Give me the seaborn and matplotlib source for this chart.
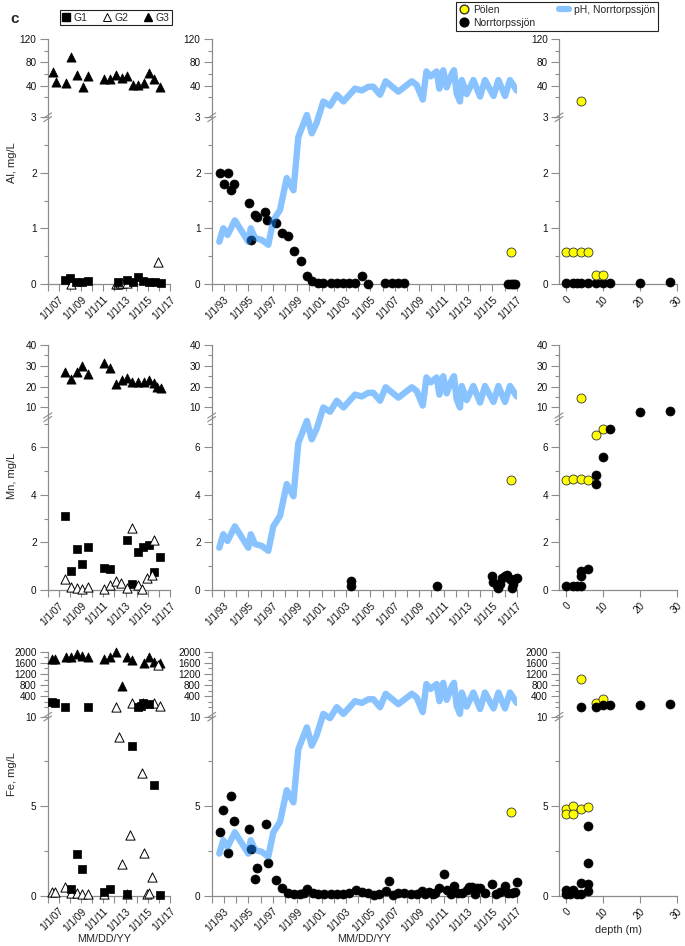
import matplotlib
matplotlib.use('Agg')
import matplotlib.pyplot as plt
import seaborn as sns
import pandas as pd
from matplotlib.lines import Line2D

# ------------------------------------------------------------------ data
# tick labels
g_major = [2007, 2009, 2011, 2013, 2015, 2017]
g_labels = ['1/1/07', '1/1/09', '1/1/11', '1/1/13', '1/1/15', '1/1/17']
lake_major = [1993, 1995, 1997, 1999, 2001, 2003, 2005, 2007, 2009, 2011, 2013, 2015, 2017]
lake_labels = ['1/1/93', '1/1/95', '1/1/97', '1/1/99', '1/1/01', '1/1/03', '1/1/05',
               '1/1/07', '1/1/09', '1/1/11', '1/1/13', '1/1/15', '1/1/17']
depth_major = [0, 10, 20, 30]
depth_labels = ['0', '10', '20', '30']

# pH, Norrtorpssjön
ph_t = [1992.62, 1992.95, 1993.3, 1993.9, 1995.0, 1995.2, 1995.55, 1996.1, 1996.64, 1997.05,
        1997.6, 1998.15, 1998.7, 1999.1, 1999.8, 2000.2, 2000.6, 2001.15, 2001.7, 2002.25,
        2002.8, 2003.75, 2004.3, 2004.84, 2005.25, 2005.8, 2006.26, 2007.3, 2008.4, 2008.8,
        2009.3, 2009.6, 2009.95, 2010.44, 2010.66, 2010.98, 2011.26, 2011.7, 2011.86, 2012.08,
        2012.35, 2012.5, 2012.9, 2013.45, 2014.0, 2014.4, 2015.1, 2015.5, 2016.04, 2016.45, 2017.0]
ph = [4.69, 4.91, 4.80, 5.04, 4.69, 4.91, 4.75, 4.72, 4.64, 5.04,
      5.21, 5.73, 5.53, 6.40, 6.76, 6.46, 6.63, 6.98, 6.91, 7.09,
      6.98, 7.19, 7.16, 7.22, 7.22, 7.09, 7.31, 7.14, 7.31, 7.25,
      7.01, 7.47, 7.39, 7.47, 7.19, 7.49, 7.21, 7.44, 7.49, 7.11,
      6.98, 7.33, 7.10, 7.33, 7.06, 7.33, 7.07, 7.33, 7.07, 7.33, 7.16]

# ---- Al
al_g3_t = [2006.45, 2006.75, 2007.64, 2008.06, 2008.6, 2009.14, 2009.6, 2011.06, 2011.6, 2012.14,
           2012.65, 2013.1, 2013.64, 2014.09, 2014.65, 2015.13, 2015.55, 2016.12]
al_g3 = [63, 47, 44, 90, 58, 38, 57, 51, 51, 58, 54, 57, 42, 41, 44, 61, 51, 37]
al_g1_t = [2007.55, 2008.0, 2008.54, 2009.1, 2009.6, 2012.35, 2013.1, 2013.64, 2014.09, 2014.6,
           2015.13, 2015.64, 2016.15]
al_g1 = [0.07, 0.10, 0.04, 0.03, 0.05, 0.03, 0.07, 0.03, 0.12, 0.05, 0.03, 0.03, 0.02]
al_g2_t = [2008.06, 2012.1, 2012.3, 2012.5, 2012.65, 2013.1, 2015.94]
al_g2 = [0.0, 0.0, 0.0, 0.01, 0.01, 0.02, 0.39]
al_lake_t = [1992.68, 1993.04, 1993.37, 1993.56, 1993.86, 1995.06, 1995.22, 1995.55, 1995.74, 1996.4,
             1996.56, 1997.24, 1997.74, 1998.28, 1998.77, 1999.3, 1999.78, 2000.25, 2000.7, 2001.15,
             2001.75, 2002.25, 2002.8, 2003.28, 2003.75, 2004.3, 2004.8, 2006.2, 2006.75, 2007.3,
             2007.8, 2016.3, 2016.5, 2016.7, 2016.9]
al_lake = [2.0, 1.8, 2.0, 1.69, 1.8, 1.46, 0.8, 1.25, 1.21, 1.29,
           1.15, 1.1, 0.91, 0.86, 0.59, 0.41, 0.14, 0.05, 0.01, 0.01,
           0.01, 0.02, 0.01, 0.02, 0.01, 0.14, 0.0, 0.01, 0.01, 0.02,
           0.01, 0.0, 0.0, 0.0, 0.0]
al_polen_t = [2016.5]
al_polen = [0.58]
al_pol_hi_d = [4]
al_pol_hi = [13.7]
al_pol_lo_d = [0, 2, 4, 6, 8, 10]
al_pol_lo = [0.58, 0.57, 0.57, 0.57, 0.16, 0.16]
al_nt_lo_d = [0, 2, 3, 4, 6, 8, 10, 12, 20, 28]
al_nt_lo = [0.02, 0.02, 0.02, 0.02, 0.02, 0.02, 0.02, 0.02, 0.02, 0.03]

# ---- Mn
mn_g3_t = [2007.6, 2008.1, 2008.6, 2009.1, 2009.6, 2011.1, 2011.6, 2012.14, 2012.65, 2013.1,
           2013.6, 2014.1, 2014.65, 2015.13, 2015.55, 2015.8, 2016.15]
mn_g3 = [27.2, 23.7, 27.2, 30.0, 26.0, 31.2, 28.8, 21.0, 23.2, 24.0, 22.4, 22.4, 22.4, 23.2, 21.7, 19.7, 19.2]
mn_g1_t = [2007.6, 2008.06, 2008.6, 2009.1, 2009.6, 2011.1, 2011.6, 2013.1, 2013.6, 2014.1,
           2014.6, 2015.13, 2015.55, 2016.1]
mn_g1 = [3.10, 0.81, 1.71, 1.09, 1.79, 0.94, 0.87, 2.10, 0.25, 1.61, 1.79, 1.89, 0.77, 1.40]
mn_g2_t = [2007.6, 2008.06, 2008.6, 2009.1, 2009.6, 2011.1, 2011.6, 2012.14, 2012.6, 2013.1,
           2013.6, 2014.1, 2014.5, 2014.95, 2015.4, 2015.55]
mn_g2 = [0.45, 0.14, 0.10, 0.05, 0.14, 0.06, 0.21, 0.38, 0.28, 0.08, 2.59, 0.20, 0.05, 0.49, 0.63, 2.10]
mn_lake_t = [2003.4, 2003.4, 2010.44, 2014.95, 2015.08, 2015.36, 2015.5, 2015.63, 2015.77, 2016.04,
             2016.18, 2016.45, 2016.59, 2016.72, 2016.86, 2017.0]
mn_lake = [0.38, 0.18, 0.18, 0.6, 0.34, 0.2, 0.1, 0.24, 0.52, 0.6, 0.65, 0.48, 0.1, 0.27, 0.45, 0.5]
mn_polen_t = [2016.5]
mn_polen = [4.65]
mn_pol_hi_d = [4]
mn_pol_hi = [14.3]
mn_pol_lo_d = [0, 2, 4, 6, 8, 10]
mn_pol_lo = [4.65, 4.66, 4.68, 4.64, 6.53, 6.78]
mn_nt_hi_d = [20, 28]
mn_nt_hi = [7.9, 8.2]
mn_nt_lo_d = [12, 10, 8, 8, 6, 4, 4, 0, 2, 3, 4]
mn_nt_lo = [6.78, 5.59, 4.86, 4.47, 0.87, 0.78, 0.6, 0.18, 0.18, 0.18, 0.18]

# ---- Fe
fe_g3_t = [2006.4, 2006.7, 2007.65, 2008.1, 2008.6, 2009.1, 2009.6, 2011.1, 2011.6, 2012.14,
           2012.65, 2013.1, 2013.6, 2014.65, 2015.13, 2015.55, 2016.1]
fe_g3 = [1727, 1727, 1821, 1821, 1907, 1840, 1821, 1727, 1821, 2000, 770, 1821, 1702, 1605, 1821, 1640, 1605]
fe_g1_hi_t = [2006.35, 2006.7, 2007.6, 2009.6, 2014.1, 2014.35, 2014.6, 2015.13]
fe_g1_hi = [206, 170, 27, 27, 27, 60, 170, 113]
fe_g1_lo_t = [2008.06, 2008.6, 2009.1, 2011.1, 2011.6, 2013.1, 2013.6, 2015.55, 2016.1]
fe_g1_lo = [0.37, 2.31, 1.49, 0.19, 0.37, 0.10, 8.38, 6.18, 0.05]
fe_g2_hi_t = [2012.14, 2013.6, 2014.6, 2015.55, 2015.94, 2016.1]
fe_g2_hi = [27, 149, 149, 149, 1540, 52]
fe_g2_lo_t = [2006.35, 2006.7, 2007.6, 2008.06, 2008.6, 2009.1, 2009.6, 2011.1, 2012.4, 2012.65,
              2013.1, 2013.4, 2014.5, 2014.65, 2014.95, 2015.13, 2015.4]
fe_g2_lo = [0.2, 0.2, 0.47, 0.13, 0.13, 0.1, 0.1, 0.1, 8.85, 1.77, 0.1, 3.39, 6.84, 2.37, 0.1, 0.13, 1.06]
fe_lake_t = [1992.68, 1992.95, 1993.37, 1993.56, 1993.86, 1995.06, 1995.22, 1995.55, 1995.74, 1996.43,
             1996.59, 1997.24, 1997.74, 1998.23, 1998.77, 1999.26, 1999.6, 1999.85, 2000.3, 2000.75,
             2001.2, 2001.75, 2002.3, 2002.8, 2003.25, 2003.8, 2004.3, 2004.8, 2005.3, 2005.75,
             2006.25, 2006.5, 2006.9, 2007.3, 2007.8, 2008.3, 2008.8, 2009.25, 2009.5, 2009.8,
             2010.1, 2010.3, 2010.6, 2011.0, 2011.25, 2011.6, 2011.9, 2012.2, 2012.5, 2012.9,
             2013.1, 2013.3, 2013.6, 2013.75, 2014.0, 2014.4, 2014.95, 2015.3, 2015.6, 2016.0,
             2016.3, 2016.6, 2016.9, 2017.0]
fe_lake = [3.58, 4.79, 2.37, 5.59, 4.17, 3.73, 2.59, 0.92, 1.56, 3.99,
           1.81, 0.88, 0.41, 0.17, 0.08, 0.10, 0.13, 0.35, 0.17, 0.10,
           0.08, 0.10, 0.08, 0.08, 0.17, 0.30, 0.22, 0.13, 0.02, 0.10,
           0.26, 0.84, 0.06, 0.13, 0.17, 0.10, 0.08, 0.26, 0.10, 0.22,
           0.08, 0.17, 0.41, 1.20, 0.30, 0.10, 0.56, 0.17, 0.13, 0.32,
           0.50, 0.50, 0.10, 0.41, 0.41, 0.13, 0.65, 0.10, 0.22, 0.54,
           0.13, 0.13, 0.22, 0.78]
fe_polen_t = [2016.5]
fe_polen = [4.7]
fe_pol_hi_d = [4, 8, 10]
fe_pol_hi = [1021, 170, 292]
fe_pol_lo_d = [0, 2, 4, 6, 0, 2]
fe_pol_lo = [4.84, 5.03, 4.84, 4.94, 4.55, 4.56]
fe_nt_hi_d = [4, 8, 10, 12, 20, 28]
fe_nt_hi = [5, 27, 70, 100, 100, 135]
fe_nt_lo_d = [6, 6, 4, 6, 0, 2, 0, 1, 3, 4, 6]
fe_nt_lo = [3.89, 1.81, 0.73, 0.67, 0.3, 0.3, 0.1, 0.1, 0.1, 0.1, 0.25]

# ------------------------------------------------------------------ style
sns.set_theme(style='ticks')
plt.rcParams['font.family'] = ['Liberation Sans', 'DejaVu Sans']

W, H = 685, 946
fig = plt.figure(figsize=(W / 100, H / 100), dpi=100)
GRAY = '#8c8c8c'
PH_COLOR = '#1489ff'
PH_ALPHA = 0.5
TICK_FS = 7.2

MK = {
    'G1': dict(marker='s', color='black', edgecolor='black', linewidth=0.5, s=40),
    'G2': dict(marker='^', color='white', edgecolor='black', linewidth=0.7, s=44),
    'G3': dict(marker='^', color='black', edgecolor='black', linewidth=0.5, s=44),
    'pol': dict(marker='o', color='#ffff00', edgecolor='#333333', linewidth=0.6, s=42),
    'nt': dict(marker='o', color='black', edgecolor='black', linewidth=0.5, s=42),
}

COLS = [
    dict(x=(47.7, 170.0), lim=(2006, 2017), major=g_major, labels=g_labels,
         minor=list(range(2006, 2017, 2))),
    dict(x=(211.7, 516.7), lim=(1992, 2017), major=lake_major, labels=lake_labels,
         minor=list(range(1992, 2017, 2))),
    dict(x=(559.0, 677.0), lim=(-1.9, 30), major=depth_major, labels=depth_labels, minor=[]),
]
ROWS = [
    dict(y=(39.0, 117.3, 284.0), tlim=(-14.1, 120), tmaj=[40, 80, 120], tmin=[20, 60, 100],
         llim=(0, 3), lmaj=[0, 1, 2, 3], lmin=[0.5, 1.5, 2.5], label='Al, mg/L', ly=163),
    dict(y=(345.0, 417.3, 590.0), tlim=(5.19, 40), tmaj=[10, 20, 30, 40], tmin=[15, 25, 35],
         llim=(0, 7.27), lmaj=[0, 2, 4, 6], lmin=[1, 3, 5, 7], label='Mn, mg/L', ly=476),
    dict(y=(651.7, 716.7, 895.7), tlim=(-332, 2000), tmaj=[400, 800, 1200, 1600, 2000],
         tmin=[0, 200, 600, 1000, 1400, 1800], llim=(0, 10), lmaj=[0, 5, 10], lmin=[2.5, 7.5],
         label='Fe, mg/L', ly=774),
]

# (row, col, segment, kind, x, y)
SERIES = [
    (0, 0, 'hi', 'G3', al_g3_t, al_g3), (0, 0, 'lo', 'G2', al_g2_t, al_g2),
    (0, 0, 'lo', 'G1', al_g1_t, al_g1),
    (0, 1, 'lo', 'nt', al_lake_t, al_lake), (0, 1, 'lo', 'pol', al_polen_t, al_polen),
    (0, 2, 'hi', 'pol', al_pol_hi_d, al_pol_hi), (0, 2, 'lo', 'nt', al_nt_lo_d, al_nt_lo),
    (0, 2, 'lo', 'pol', al_pol_lo_d, al_pol_lo),
    (1, 0, 'hi', 'G3', mn_g3_t, mn_g3), (1, 0, 'lo', 'G1', mn_g1_t, mn_g1),
    (1, 0, 'lo', 'G2', mn_g2_t, mn_g2),
    (1, 1, 'lo', 'nt', mn_lake_t, mn_lake), (1, 1, 'lo', 'pol', mn_polen_t, mn_polen),
    (1, 2, 'hi', 'pol', mn_pol_hi_d, mn_pol_hi), (1, 2, 'hi', 'nt', mn_nt_hi_d, mn_nt_hi),
    (1, 2, 'lo', 'pol', mn_pol_lo_d, mn_pol_lo), (1, 2, 'lo', 'nt', mn_nt_lo_d, mn_nt_lo),
    (2, 0, 'hi', 'G3', fe_g3_t, fe_g3), (2, 0, 'hi', 'G2', fe_g2_hi_t, fe_g2_hi),
    (2, 0, 'hi', 'G1', fe_g1_hi_t, fe_g1_hi),
    (2, 0, 'lo', 'G2', fe_g2_lo_t, fe_g2_lo), (2, 0, 'lo', 'G1', fe_g1_lo_t, fe_g1_lo),
    (2, 1, 'lo', 'nt', fe_lake_t, fe_lake), (2, 1, 'lo', 'pol', fe_polen_t, fe_polen),
    (2, 2, 'hi', 'pol', fe_pol_hi_d, fe_pol_hi), (2, 2, 'hi', 'nt', fe_nt_hi_d, fe_nt_hi),
    (2, 2, 'lo', 'pol', fe_pol_lo_d, fe_pol_lo), (2, 2, 'lo', 'nt', fe_nt_lo_d, fe_nt_lo),
]


def add_ax(x0, x1, y0, y1):
    return fig.add_axes([x0 / W, 1 - y1 / H, (x1 - x0) / W, (y1 - y0) / H])


def style(ax, bottom):
    for s in ['top', 'right']:
        ax.spines[s].set_visible(False)
    ax.spines['bottom'].set_visible(bottom)
    for s in ['left', 'bottom']:
        ax.spines[s].set_color(GRAY)
        ax.spines[s].set_linewidth(0.9)
    ax.patch.set_alpha(0)
    ax.tick_params(which='both', direction='out', color=GRAY, width=0.8,
                   labelsize=TICK_FS, labelcolor='#111111', pad=2.5, left=True, bottom=bottom)
    ax.tick_params(axis='y', which='major', length=5.5)
    ax.tick_params(axis='y', which='minor', length=3.2)
    ax.tick_params(axis='x', which='both', length=5.0)
    ax.grid(False)


axes = {}
for r, R in enumerate(ROWS):
    ytop, ybrk, ybot = R['y']
    for c, C in enumerate(COLS):
        x0, x1 = C['x']
        at = add_ax(x0, x1, ytop, ybrk)
        ab = add_ax(x0, x1, ybrk, ybot)
        for a in (at, ab):
            a.set_xlim(*C['lim'])
        at.set_ylim(*R['tlim'])
        ab.set_ylim(*R['llim'])
        style(at, False)
        style(ab, True)
        at.xaxis.set_visible(False)
        at.set_yticks(R['tmaj'])
        at.set_yticks(R['tmin'], minor=True)
        ab.set_yticks(R['lmaj'])
        ab.set_yticks(R['lmin'], minor=True)
        ab.set_yticklabels([('%g' % v) for v in R['lmaj']])
        at.set_yticklabels([('%g' % v) for v in R['tmaj']])
        ab.set_xticks(C['major'])
        ab.set_xticklabels(C['labels'], rotation=45, ha='right', rotation_mode='anchor',
                           fontsize=TICK_FS)
        if C['minor']:
            ab.set_xticks(C['minor'], minor=True)
        ab.set_xlabel('')
        at.set_xlabel('')
        axes[(r, c)] = (at, ab)
        # break marks
        for dy in (-1.8, 1.8):
            fig.add_artist(Line2D([(x0 - 4.0) / W, (x0 + 4.0) / W],
                                  [1 - (ybrk + dy + 2.6) / H, 1 - (ybrk + dy - 2.6) / H],
                                  color=GRAY, lw=0.8))

for (r, c, seg, kind, xs, ys) in SERIES:
    at, ab = axes[(r, c)]
    ax = at if seg == 'hi' else ab
    df = pd.DataFrame({'x': xs, 'y': ys})
    sns.scatterplot(data=df, x='x', y='y', ax=ax, legend=False, clip_on=False, zorder=3, **MK[kind])
    ax.set_xlabel('')
    ax.set_ylabel('')

# pH overlay in middle column, same shape in each row
ph_df = pd.DataFrame({'t': ph_t, 'pH': ph})
for r, R in enumerate(ROWS):
    ytop, ybrk, ybot = R['y']
    x0, x1 = COLS[1]['x']
    axp = add_ax(x0, x1, ytop, ybot)
    axp.set_xlim(*COLS[1]['lim'])
    axp.set_ylim(4, 8)
    sns.lineplot(data=ph_df, x='t', y='pH', ax=axp, sort=False, estimator=None,
                 color=PH_COLOR, alpha=PH_ALPHA, lw=4.6, zorder=5)
    for ln in axp.get_lines():
        ln.set_solid_capstyle('round')
        ln.set_solid_joinstyle('round')
    axp.axis('off')

# labels
fig.text(15 / W, 1 - 19 / H, 'c', fontsize=11, fontweight='bold', ha='center', va='center')
for R in ROWS:
    fig.text(12 / W, 1 - R['ly'] / H, R['label'], rotation=90, fontsize=8,
             ha='center', va='center')
fig.text(104 / W, 1 - 939 / H, 'MM/DD/YY', fontsize=7.8, ha='center', va='center')
fig.text(364 / W, 1 - 939 / H, 'MM/DD/YY', fontsize=7.8, ha='center', va='center')
fig.text(618 / W, 1 - 930 / H, 'depth (m)', fontsize=7.8, ha='center', va='center')

# legends
h1 = [Line2D([], [], ls='', marker='s', mfc='black', mec='black', ms=6, label='G1'),
      Line2D([], [], ls='', marker='^', mfc='white', mec='black', ms=6, mew=0.7, label='G2'),
      Line2D([], [], ls='', marker='^', mfc='black', mec='black', ms=6, label='G3')]
leg1 = fig.legend(handles=h1, loc='upper left', bbox_to_anchor=(60 / W, 1 - 10 / H), ncol=3,
                  frameon=True, fancybox=False, edgecolor='#222222', framealpha=1,
                  fontsize=7.5, handlelength=0.7, handletextpad=0.3, columnspacing=1.6,
                  borderpad=0.25, borderaxespad=0)
leg1.get_frame().set_linewidth(0.8)

h2 = [Line2D([], [], ls='', marker='o', mfc='#ffff00', mec='#333333', ms=6.3, label='Pölen'),
      Line2D([], [], ls='', marker='o', mfc='black', mec='black', ms=6.3, label='Norrtorpssjön'),
      Line2D([], [], color=PH_COLOR, alpha=PH_ALPHA, lw=4.5, solid_capstyle='round',
             label='pH, Norrtorpssjön')]
leg2 = fig.legend(handles=h2, loc='upper left', bbox_to_anchor=(455.7 / W, 1 - 1.7 / H), ncol=2,
                  frameon=True, fancybox=False, edgecolor='#222222', framealpha=1,
                  fontsize=7.5, handlelength=0.9, handletextpad=0.5, columnspacing=2.3,
                  labelspacing=0.3, borderpad=0.3, borderaxespad=0)
leg2.get_frame().set_linewidth(0.8)

fig.savefig('out.png', dpi=100)
